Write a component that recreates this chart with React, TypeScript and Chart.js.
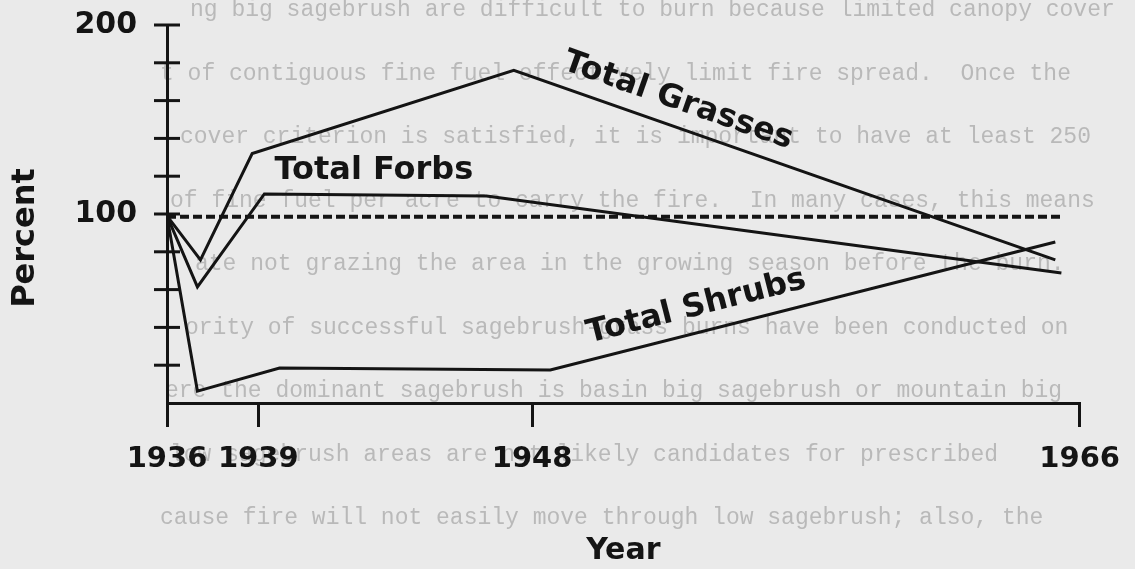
import React, { useEffect, useRef } from 'react';
import { Chart, registerables } from 'chart.js';

Chart.register(...registerables);

// ---- data ----
const xTickYears = [1936, 1939, 1948, 1966];
const yTickValues = [0, 20, 40, 60, 80, 100, 120, 140, 160, 180, 200];
const yLabeledTicks = [100, 200];

const grassYears = [1936, 1937.1, 1938.8, 1947.4, 1965.2];
const grassValues = [99, 75.7, 132, 176, 75.7];

const forbYears = [1936, 1937, 1939.2, 1946.5, 1965.4];
const forbValues = [99, 61.4, 110.6, 109.5, 68.8];

const shrubYears = [1936, 1937, 1939.7, 1948.6, 1965.2];
const shrubValues = [99, 6.3, 18.5, 17.5, 85.2];

const baselineYears = [1936, 1965.4];
const baselineValues = [98.5, 98.5];

const labelTexts = ['Total Grasses', 'Total Forbs', 'Total Shrubs'];
const labelYears = [1952.8, 1942.8, 1953.4];
const labelValues = [159.8, 122.8, 50.8];
const labelSegment = [3, -1, 3]; // segment of the series the label follows

// faint show-through text of the scanned page
const showThroughLines = [
  'ng big sagebrush are difficult to burn because limited canopy cover',
  't of contiguous fine fuel effectively limit fire spread.  Once the',
  'cover criterion is satisfied, it is important to have at least 250',
  'of fine fuel per acre to carry the fire.  In many cases, this means',
  'ate not grazing the area in the growing season before the burn.',
  'ority of successful sagebrush-grass burns have been conducted on',
  'ere the dominant sagebrush is basin big sagebrush or mountain big',
  'low sagebrush areas are not likely candidates for prescribed',
  'cause fire will not easily move through low sagebrush; also, the',
];
const showThroughIndent = [190, 160, 180, 170, 195, 185, 165, 170, 160];

const INK = '#141414';
const PAPER = '#eaeaea';
const FONT = "'DejaVu Sans', sans-serif";

const toPoints = (xs: number[], ys: number[]) => xs.map((x, i) => ({ x, y: ys[i] }));
const seriesYears = [grassYears, forbYears, shrubYears];
const seriesValues = [grassValues, forbValues, shrubValues];

const paperPlugin = {
  id: 'paper',
  beforeDraw(chart: any) {
    const { ctx, width, height } = chart;
    ctx.save();
    ctx.fillStyle = PAPER;
    ctx.fillRect(0, 0, width, height);
    ctx.fillStyle = '#b9b9b9';
    ctx.font = "23px 'Liberation Mono', monospace";
    ctx.textBaseline = 'middle';
    ctx.textAlign = 'left';
    showThroughLines.forEach((line, i) => {
      ctx.fillText(line, showThroughIndent[i], 10 + i * 63.5);
    });
    ctx.restore();
  },
};

const crossTicksPlugin = {
  id: 'crossTicks',
  afterDraw(chart: any) {
    const { ctx, chartArea } = chart;
    const ys = chart.scales.y;
    ctx.save();
    ctx.strokeStyle = INK;
    ctx.lineWidth = 3;
    ys.ticks.forEach((t: any) => {
      if (t.value === 0) return;
      const py = ys.getPixelForValue(t.value);
      ctx.beginPath();
      ctx.moveTo(chartArea.left - 13, py);
      ctx.lineTo(chartArea.left + 13, py);
      ctx.stroke();
    });
    // y axis title
    ctx.fillStyle = INK;
    ctx.font = `bold 32px ${FONT}`;
    ctx.textAlign = 'center';
    ctx.textBaseline = 'middle';
    ctx.translate(26, (chartArea.top + chartArea.bottom) / 2 + 24);
    ctx.rotate(-Math.PI / 2);
    ctx.fillText('Percent', 0, 0);
    ctx.restore();
  },
};

const seriesLabelPlugin = {
  id: 'seriesLabels',
  afterDatasetsDraw(chart: any) {
    const { ctx } = chart;
    const xs = chart.scales.x;
    const ys = chart.scales.y;
    labelTexts.forEach((text, k) => {
      let angle = 0;
      const seg = labelSegment[k];
      if (seg >= 0) {
        const yrs = seriesYears[k];
        const vals = seriesValues[k];
        const ax = xs.getPixelForValue(yrs[seg]);
        const ay = ys.getPixelForValue(vals[seg]);
        const bx = xs.getPixelForValue(yrs[seg + 1]);
        const by = ys.getPixelForValue(vals[seg + 1]);
        angle = Math.atan2(by - ay, bx - ax);
      }
      const px = xs.getPixelForValue(labelYears[k]);
      const py = ys.getPixelForValue(labelValues[k]);
      ctx.save();
      ctx.fillStyle = INK;
      ctx.font = `bold 32px ${FONT}`;
      ctx.textAlign = 'center';
      ctx.textBaseline = 'middle';
      ctx.translate(px, py);
      ctx.rotate(angle);
      ctx.fillText(text, 0, 0);
      ctx.restore();
    });
  },
};

export default function App() {
  const canvasRef = useRef<HTMLCanvasElement | null>(null);

  useEffect(() => {
    document.body.style.margin = '0';
    document.body.style.background = PAPER;
    const canvas = canvasRef.current;
    if (!canvas) return;

    const lineStyle = {
      borderColor: INK,
      borderWidth: 3,
      pointRadius: 0,
      tension: 0,
      fill: false,
    };

    const chart = new Chart(canvas, {
      type: 'line',
      data: {
        datasets: [
          { label: 'Total Grasses', data: toPoints(grassYears, grassValues), ...lineStyle },
          { label: 'Total Forbs', data: toPoints(forbYears, forbValues), ...lineStyle },
          { label: 'Total Shrubs', data: toPoints(shrubYears, shrubValues), ...lineStyle },
          {
            label: '1936 level',
            data: toPoints(baselineYears, baselineValues),
            ...lineStyle,
            borderWidth: 4,
            borderDash: [9, 4],
            borderCapStyle: 'butt',
          },
        ],
      },
      options: {
        animation: false,
        responsive: true,
        maintainAspectRatio: false,
        layout: { padding: { top: 25, right: 51, bottom: 0, left: 0 } },
        plugins: {
          legend: { display: false },
          tooltip: { enabled: false },
        },
        scales: {
          x: {
            type: 'linear',
            min: 1936,
            max: 1966,
            afterBuildTicks: (scale: any) => {
              scale.ticks = xTickYears.map((v) => ({ value: v }));
            },
            afterFit: (scale: any) => {
              scale.height = 166;
            },
            grid: {
              display: true,
              drawOnChartArea: false,
              drawTicks: true,
              tickLength: 24,
              color: INK,
              lineWidth: 3,
            },
            border: { display: true, color: INK, width: 3 },
            ticks: {
              autoSkip: false,
              maxRotation: 0,
              padding: 15,
              color: INK,
              font: { family: FONT, weight: 'bold', size: 29 },
              callback: (v: any) => String(v),
            },
            title: {
              display: true,
              text: 'Year',
              color: INK,
              font: { family: FONT, weight: 'bold', size: 30, lineHeight: 1.2 },
              padding: { top: 0, bottom: 0 },
            },
          },
          y: {
            type: 'linear',
            min: 0,
            max: 200,
            afterBuildTicks: (scale: any) => {
              scale.ticks = yTickValues.map((v) => ({ value: v }));
            },
            afterFit: (scale: any) => {
              scale.width = 167;
              scale.paddingTop = 0;
              scale.paddingBottom = 0;
            },
            grid: { display: false, drawTicks: false },
            border: { display: true, color: INK, width: 3 },
            ticks: {
              autoSkip: false,
              padding: 30,
              color: INK,
              font: { family: FONT, weight: 'bold', size: 30 },
              callback: (v: any) => (yLabeledTicks.includes(Number(v)) ? String(v) : ''),
            },
          },
        },
      },
      plugins: [paperPlugin, crossTicksPlugin, seriesLabelPlugin],
    } as any);

    return () => chart.destroy();
  }, []);

  return (
    <div style={{ position: 'relative', width: '1135px', height: '569px' }}>
      <canvas ref={canvasRef} />
    </div>
  );
}
